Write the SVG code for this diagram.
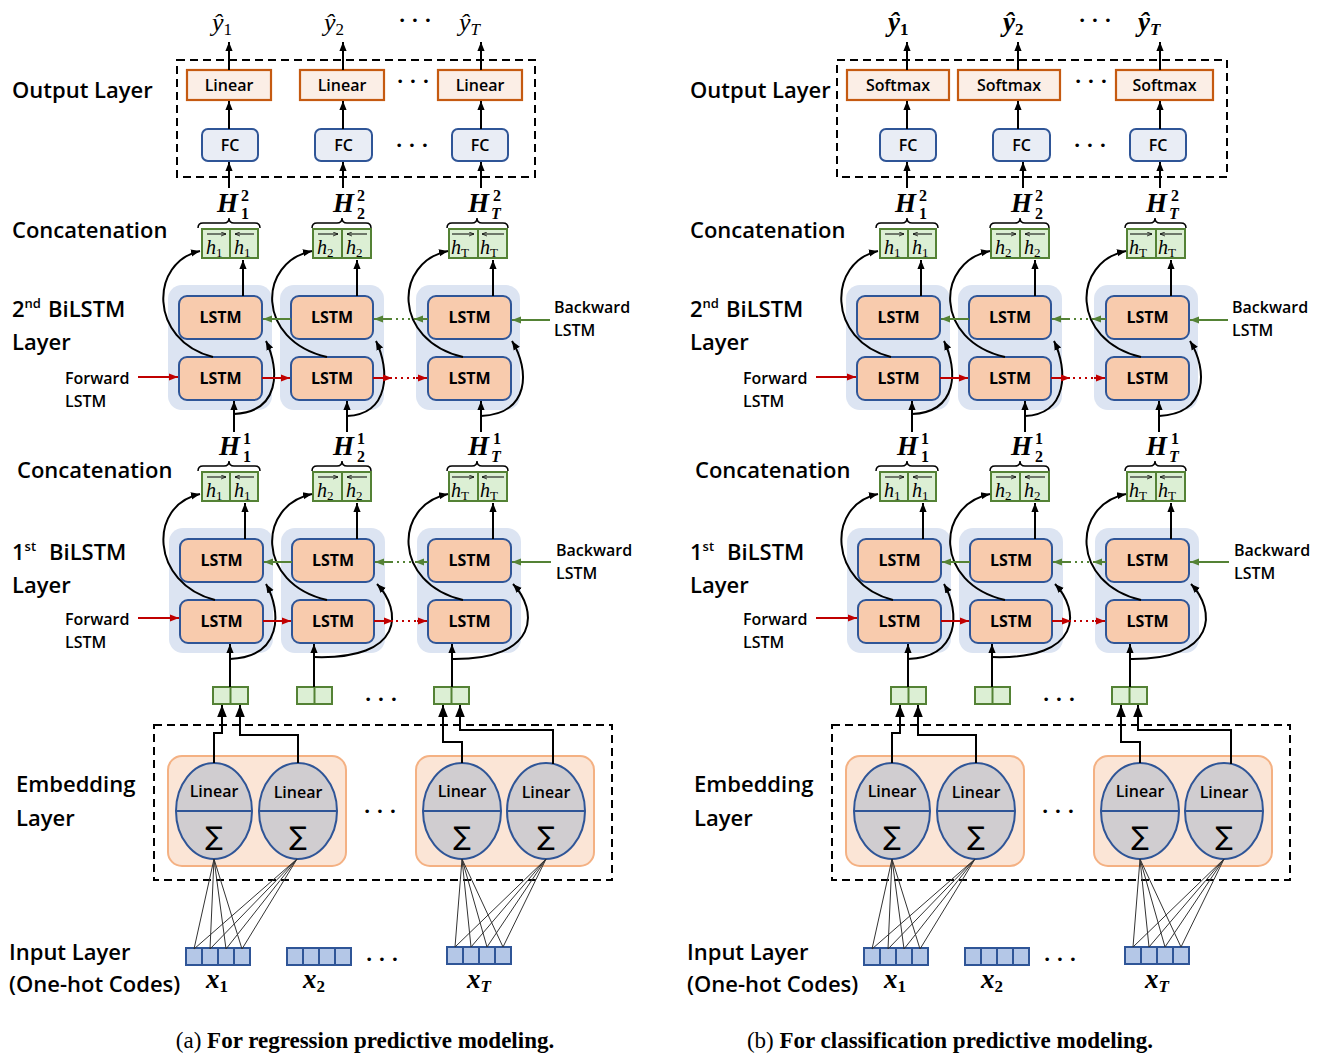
<svg xmlns="http://www.w3.org/2000/svg" width="1324" height="1055" viewBox="0 0 1324 1055">
<style>
text{font-family:"Open Sans","Liberation Sans",sans-serif;fill:#000}
.lbl{font-size:22px;font-weight:600}
.sup{font-size:13px;font-weight:600}
.sm{font-size:16px;font-weight:600}
.bt{font-size:16px;font-weight:600;text-anchor:middle}
.lt{font-size:16px;font-weight:700;text-anchor:middle}
.sig{font-family:"DejaVu Sans",sans-serif;font-size:26px;text-anchor:middle}
.m{font-family:"Liberation Serif",serif;font-style:italic;font-size:26px}
.mb{font-family:"Liberation Serif",serif;font-style:italic;font-weight:bold;font-size:27px}
.ms{font-size:17px;font-style:normal}
.msi{font-size:17px}
.H{font-family:"Liberation Serif",serif;font-style:italic;font-weight:bold;font-size:27px}
.hn{font-family:"Liberation Serif",serif;font-weight:bold;font-size:16px}
.hi{font-family:"Liberation Serif",serif;font-weight:bold;font-style:italic;font-size:16px}
.hv{font-family:"Liberation Serif",serif;font-style:italic;font-size:20px}
.hvs{font-size:13px;font-style:normal}
.dots{font-family:"Liberation Serif",serif;font-size:22px;font-weight:bold;text-anchor:middle}
.cap{font-family:"Liberation Serif",serif;font-size:23px;text-anchor:middle}
.dash{fill:none;stroke:#000;stroke-width:2;stroke-dasharray:8 5}
.lin{fill:#fbeee6;stroke:#c55a11;stroke-width:2.2}
.fc{fill:#e9edf5;stroke:#2f5597;stroke-width:2}
.gb{fill:#dcefd4;stroke:#548235;stroke-width:2}
.cont{fill:#dce4f2}
.lstm{fill:#f8cbad;stroke:#2f5597;stroke-width:2}
.emb{fill:#fbe5d6;stroke:#f4b183;stroke-width:2}
.ell{fill:#d0cdd0;stroke:#2f5597;stroke-width:2}
.cell{fill:#b4c7e7;stroke:#2f5597;stroke-width:2}
.sep{stroke:#548235;stroke-width:2}
.esep{stroke:#2f5597;stroke-width:2}
.brace{fill:none;stroke:#000;stroke-width:1.5}
.a{fill:none;stroke:#000;stroke-width:2;marker-end:url(#ak)}
.ab{fill:none;stroke:#000;stroke-width:2;marker-end:url(#akb)}
.r{fill:none;stroke:#c00000;stroke-width:2;marker-end:url(#ar)}
.rd{fill:none;stroke:#c00000;stroke-width:2;stroke-dasharray:2 4}
.g{fill:none;stroke:#548235;stroke-width:2;marker-end:url(#ag)}
.gd{fill:none;stroke:#548235;stroke-width:2;stroke-dasharray:2 4}
.thin{fill:none;stroke:#333;stroke-width:1}
.va{fill:none;stroke:#000;stroke-width:1;marker-end:url(#av)}
</style>
<defs>
<marker id="ak" viewBox="0 0 10 10" refX="10" refY="5" markerWidth="9" markerHeight="9" markerUnits="userSpaceOnUse" orient="auto"><path d="M0,1 L10,5 L0,9 z" fill="#000"/></marker>
<marker id="akb" viewBox="0 0 10 10" refX="10" refY="5" markerWidth="12" markerHeight="12" markerUnits="userSpaceOnUse" orient="auto"><path d="M0,1 L10,5 L0,9 z" fill="#000"/></marker>
<marker id="ar" viewBox="0 0 10 10" refX="10" refY="5" markerWidth="9" markerHeight="9" markerUnits="userSpaceOnUse" orient="auto"><path d="M0,1 L10,5 L0,9 z" fill="#c00000"/></marker>
<marker id="ag" viewBox="0 0 10 10" refX="10" refY="5" markerWidth="9" markerHeight="9" markerUnits="userSpaceOnUse" orient="auto"><path d="M0,1 L10,5 L0,9 z" fill="#548235"/></marker>
<marker id="av" viewBox="0 0 10 10" refX="10" refY="5" markerWidth="5" markerHeight="5" markerUnits="userSpaceOnUse" orient="auto"><path d="M0,1 L10,5 L0,9" fill="none" stroke="#000" stroke-width="1.5"/></marker>
</defs>

<!-- ================= PANEL A ================= -->
<g id="panel-a">
<g id="a-labels">
<text class="lbl" x="12" y="98">Output Layer</text>
<text class="lbl" x="12" y="238">Concatenation</text>
<text class="lbl" x="12" y="317">2<tspan class="sup" dy="-9">nd</tspan><tspan x="48" dy="9">BiLSTM</tspan></text>
<text class="lbl" x="12" y="350">Layer</text>
<text class="sm" x="65" y="384">Forward</text>
<text class="sm" x="65" y="407">LSTM</text>
<text class="sm" x="554" y="313">Backward</text>
<text class="sm" x="554" y="336">LSTM</text>
<text class="lbl" x="17" y="478">Concatenation</text>
<text class="lbl" x="12" y="560">1<tspan class="sup" dy="-9">st</tspan><tspan x="49" dy="9">BiLSTM</tspan></text>
<text class="lbl" x="12" y="593">Layer</text>
<text class="sm" x="65" y="625">Forward</text>
<text class="sm" x="65" y="648">LSTM</text>
<text class="sm" x="556" y="556">Backward</text>
<text class="sm" x="556" y="579">LSTM</text>
<text class="lbl" x="16" y="792">Embedding</text>
<text class="lbl" x="16" y="826">Layer</text>
<text class="lbl" x="9" y="960">Input Layer</text>
<text class="lbl" x="9" y="992">(One-hot Codes)</text>
<text class="dots" x="415" y="27">· · ·</text>
<text class="dots" x="413" y="88">· · ·</text>
<text class="dots" x="412" y="152">· · ·</text>
<text class="dots" x="381" y="706">· · ·</text>
<text class="dots" x="380" y="818">· · ·</text>
<text class="dots" x="382" y="966">· · ·</text>
</g>

<g id="a-out-frame"><rect class="dash" x="177" y="60" width="358" height="117"/></g>
<g id="a-y1"><text class="m" x="212" y="31">ŷ<tspan class="ms" dy="4">1</tspan></text></g>
<g id="a-y2"><text class="m" x="324" y="31">ŷ<tspan class="ms" dy="4">2</tspan></text></g>
<g id="a-yT"><text class="m" x="459" y="31">ŷ<tspan class="msi" dy="4">T</tspan></text></g>
<g id="a-lin1"><rect class="lin" x="187" y="70" width="84" height="30"/><text class="bt" x="229" y="91">Linear</text></g>
<g id="a-lin2"><rect class="lin" x="300" y="70" width="84" height="30"/><text class="bt" x="342" y="91">Linear</text></g>
<g id="a-lin3"><rect class="lin" x="438" y="70" width="84" height="30"/><text class="bt" x="480" y="91">Linear</text></g>
<g id="a-fc1"><rect class="fc" x="202" y="129" width="56" height="32" rx="6"/><text class="bt" x="230" y="151">FC</text></g>
<g id="a-fc2"><rect class="fc" x="315" y="129" width="57" height="32" rx="6"/><text class="bt" x="343.5" y="151">FC</text></g>
<g id="a-fc3"><rect class="fc" x="452" y="129" width="56" height="32" rx="6"/><text class="bt" x="480" y="151">FC</text></g>

<!-- concatenation layer 2 -->
<g id="a-c2-1">
<text class="H" x="217" y="212">H</text><text class="hn" x="241" y="201">2</text><text class="hn" x="241" y="219">1</text>
<path class="brace" d="M198,228 Q198,223 203,223 L224,223 Q229,223 229,218 Q229,223 234,223 L255,223 Q260,223 260,228"/>
<rect class="gb" x="202" y="229" width="56" height="29"/><line class="sep" x1="230" y1="229" x2="230" y2="258"/>
<line class="va" x1="207" y1="234" x2="226" y2="234"/><text class="hv" x="206" y="254">h<tspan class="hvs" dy="3">1</tspan></text>
<line class="va" x1="254" y1="234" x2="235" y2="234"/><text class="hv" x="234" y="254">h<tspan class="hvs" dy="3">1</tspan></text>
</g>
<g id="a-c2-2">
<text class="H" x="333" y="212">H</text><text class="hn" x="357" y="201">2</text><text class="hn" x="357" y="219">2</text>
<path class="brace" d="M312,228 Q312,223 317,223 L337,223 Q342,223 342,218 Q342,223 347,223 L366,223 Q371,223 371,228"/>
<rect class="gb" x="313" y="229" width="58" height="29"/><line class="sep" x1="342" y1="229" x2="342" y2="258"/>
<line class="va" x1="318" y1="234" x2="338" y2="234"/><text class="hv" x="317" y="254">h<tspan class="hvs" dy="3">2</tspan></text>
<line class="va" x1="367" y1="234" x2="347" y2="234"/><text class="hv" x="346" y="254">h<tspan class="hvs" dy="3">2</tspan></text>
</g>
<g id="a-c2-3">
<text class="H" x="468" y="212">H</text><text class="hn" x="493" y="201">2</text><text class="hi" x="491" y="219">T</text>
<path class="brace" d="M447,228 Q447,223 452,223 L472,223 Q477,223 477,218 Q477,223 482,223 L503,223 Q508,223 508,228"/>
<rect class="gb" x="449" y="229" width="58" height="29"/><line class="sep" x1="478" y1="229" x2="478" y2="258"/>
<line class="va" x1="452" y1="234" x2="474" y2="234"/><text class="hv" x="451" y="254">h<tspan class="hvs" font-style="italic" dy="3">T</tspan></text>
<line class="va" x1="504" y1="234" x2="482" y2="234"/><text class="hv" x="480" y="254">h<tspan class="hvs" font-style="italic" dy="3">T</tspan></text>
</g>

<!-- BiLSTM layer 2 -->
<g id="a-l2-cont1"><rect class="cont" x="168" y="285" width="104" height="125" rx="14"/></g>
<g id="a-l2-cont2"><rect class="cont" x="280" y="285" width="104" height="125" rx="14"/></g>
<g id="a-l2-cont3"><rect class="cont" x="416" y="285" width="104" height="125" rx="14"/></g>
<g id="a-l2-b1"><rect class="lstm" x="179" y="296" width="83" height="43" rx="8"/><text class="lt" x="220.5" y="323">LSTM</text></g>
<g id="a-l2-f1"><rect class="lstm" x="179" y="357" width="83" height="43" rx="8"/><text class="lt" x="220.5" y="384">LSTM</text></g>
<g id="a-l2-b2"><rect class="lstm" x="291" y="296" width="82" height="43" rx="8"/><text class="lt" x="332" y="323">LSTM</text></g>
<g id="a-l2-f2"><rect class="lstm" x="291" y="357" width="82" height="43" rx="8"/><text class="lt" x="332" y="384">LSTM</text></g>
<g id="a-l2-b3"><rect class="lstm" x="428" y="296" width="83" height="43" rx="8"/><text class="lt" x="469.5" y="323">LSTM</text></g>
<g id="a-l2-f3"><rect class="lstm" x="428" y="357" width="83" height="43" rx="8"/><text class="lt" x="469.5" y="384">LSTM</text></g>

<!-- concatenation layer 1 -->
<g id="a-c1-1">
<text class="H" x="219" y="455">H</text><text class="hn" x="243" y="444">1</text><text class="hn" x="243" y="462">1</text>
<path class="brace" d="M198,471 Q198,466 203,466 L224,466 Q229,466 229,461 Q229,466 234,466 L255,466 Q260,466 260,471"/>
<rect class="gb" x="202" y="472" width="56" height="29"/><line class="sep" x1="230" y1="472" x2="230" y2="501"/>
<line class="va" x1="207" y1="477" x2="226" y2="477"/><text class="hv" x="206" y="497">h<tspan class="hvs" dy="3">1</tspan></text>
<line class="va" x1="254" y1="477" x2="235" y2="477"/><text class="hv" x="234" y="497">h<tspan class="hvs" dy="3">1</tspan></text>
</g>
<g id="a-c1-2">
<text class="H" x="333" y="455">H</text><text class="hn" x="357" y="444">1</text><text class="hn" x="357" y="462">2</text>
<path class="brace" d="M312,471 Q312,466 317,466 L337,466 Q342,466 342,461 Q342,466 347,466 L366,466 Q371,466 371,471"/>
<rect class="gb" x="313" y="472" width="58" height="29"/><line class="sep" x1="342" y1="472" x2="342" y2="501"/>
<line class="va" x1="318" y1="477" x2="338" y2="477"/><text class="hv" x="317" y="497">h<tspan class="hvs" dy="3">2</tspan></text>
<line class="va" x1="367" y1="477" x2="347" y2="477"/><text class="hv" x="346" y="497">h<tspan class="hvs" dy="3">2</tspan></text>
</g>
<g id="a-c1-3">
<text class="H" x="468" y="455">H</text><text class="hn" x="493" y="444">1</text><text class="hi" x="491" y="462">T</text>
<path class="brace" d="M447,471 Q447,466 452,466 L472,466 Q477,466 477,461 Q477,466 482,466 L503,466 Q508,466 508,471"/>
<rect class="gb" x="449" y="472" width="58" height="29"/><line class="sep" x1="478" y1="472" x2="478" y2="501"/>
<line class="va" x1="452" y1="477" x2="474" y2="477"/><text class="hv" x="451" y="497">h<tspan class="hvs" font-style="italic" dy="3">T</tspan></text>
<line class="va" x1="504" y1="477" x2="482" y2="477"/><text class="hv" x="480" y="497">h<tspan class="hvs" font-style="italic" dy="3">T</tspan></text>
</g>

<!-- BiLSTM layer 1 -->
<g id="a-l1-cont1"><rect class="cont" x="169" y="528" width="104" height="125" rx="14"/></g>
<g id="a-l1-cont2"><rect class="cont" x="281" y="528" width="104" height="125" rx="14"/></g>
<g id="a-l1-cont3"><rect class="cont" x="417" y="528" width="104" height="125" rx="14"/></g>
<g id="a-l1-b1"><rect class="lstm" x="180" y="539" width="83" height="43" rx="8"/><text class="lt" x="221.5" y="566">LSTM</text></g>
<g id="a-l1-f1"><rect class="lstm" x="180" y="600" width="83" height="43" rx="8"/><text class="lt" x="221.5" y="627">LSTM</text></g>
<g id="a-l1-b2"><rect class="lstm" x="292" y="539" width="82" height="43" rx="8"/><text class="lt" x="333" y="566">LSTM</text></g>
<g id="a-l1-f2"><rect class="lstm" x="292" y="600" width="82" height="43" rx="8"/><text class="lt" x="333" y="627">LSTM</text></g>
<g id="a-l1-b3"><rect class="lstm" x="428" y="539" width="83" height="43" rx="8"/><text class="lt" x="469.5" y="566">LSTM</text></g>
<g id="a-l1-f3"><rect class="lstm" x="428" y="600" width="83" height="43" rx="8"/><text class="lt" x="469.5" y="627">LSTM</text></g>

<!-- embedding outputs -->
<g id="a-e1"><rect class="gb" x="213" y="687" width="35" height="17"/><line class="sep" x1="230.5" y1="687" x2="230.5" y2="704"/></g>
<g id="a-e2"><rect class="gb" x="297" y="687" width="35" height="17"/><line class="sep" x1="314.5" y1="687" x2="314.5" y2="704"/></g>
<g id="a-e3"><rect class="gb" x="434" y="687" width="35" height="17"/><line class="sep" x1="451.5" y1="687" x2="451.5" y2="704"/></g>

<!-- embedding layer -->
<g id="a-emb-frame"><rect class="dash" x="154" y="725" width="458" height="155"/></g>
<g id="a-emb1"><rect class="emb" x="168" y="756" width="178" height="110" rx="14"/></g>
<g id="a-emb2"><rect class="emb" x="416" y="756" width="178" height="110" rx="14"/></g>
<g id="a-n1"><ellipse class="ell" cx="214" cy="811" rx="38" ry="48"/><line class="esep" x1="176" y1="811" x2="252" y2="811"/><text class="bt" x="214" y="797">Linear</text><text class="sig" x="214" y="845">∑</text></g>
<g id="a-n2"><ellipse class="ell" cx="298" cy="811" rx="39" ry="48"/><line class="esep" x1="259" y1="811" x2="337" y2="811"/><text class="bt" x="298" y="798">Linear</text><text class="sig" x="298" y="845">∑</text></g>
<g id="a-n3"><ellipse class="ell" cx="462" cy="811" rx="39" ry="48"/><line class="esep" x1="423" y1="811" x2="501" y2="811"/><text class="bt" x="462" y="797">Linear</text><text class="sig" x="462" y="845">∑</text></g>
<g id="a-n4"><ellipse class="ell" cx="546" cy="811" rx="39" ry="48"/><line class="esep" x1="507" y1="811" x2="585" y2="811"/><text class="bt" x="546" y="798">Linear</text><text class="sig" x="546" y="845">∑</text></g>

<!-- input layer -->
<g id="a-x1"><rect class="cell" x="186" y="948" width="16" height="17"/><rect class="cell" x="202" y="948" width="16" height="17"/><rect class="cell" x="218" y="948" width="16" height="17"/><rect class="cell" x="234" y="948" width="16" height="17"/><text class="mb" x="206" y="988">x<tspan class="ms" dy="4">1</tspan></text></g>
<g id="a-x2"><rect class="cell" x="287" y="948" width="16" height="17"/><rect class="cell" x="303" y="948" width="16" height="17"/><rect class="cell" x="319" y="948" width="16" height="17"/><rect class="cell" x="335" y="948" width="16" height="17"/><text class="mb" x="303" y="988">x<tspan class="ms" dy="4">2</tspan></text></g>
<g id="a-xT"><rect class="cell" x="447" y="947" width="16" height="17"/><rect class="cell" x="463" y="947" width="16" height="17"/><rect class="cell" x="479" y="947" width="16" height="17"/><rect class="cell" x="495" y="947" width="16" height="17"/><text class="mb" x="467" y="988">x<tspan class="msi" dy="4">T</tspan></text></g>

<g id="a-connectors">
<path class="a" d="M229,70 V42"/><path class="a" d="M343,70 V42"/><path class="a" d="M481,70 V42"/>
<path class="a" d="M229,129 V101"/><path class="a" d="M343,129 V101"/><path class="a" d="M481,129 V101"/>
<path class="a" d="M229,188 V162"/><path class="a" d="M343,188 V162"/><path class="a" d="M481,188 V162"/>
<path class="a" d="M243,296 V260"/><path class="a" d="M357,296 V260"/><path class="a" d="M493,296 V260"/>
<path class="a" d="M213,357 C148,340 150,262 200,251"/>
<path class="a" d="M327,357 C255,340 258,262 312,251"/>
<path class="a" d="M463,357 C392,340 394,262 448,251"/>
<path class="a" d="M234,432 V401"/><path class="a" d="M347,432 V401"/><path class="a" d="M481,432 V401"/>
<path class="a" d="M234,414 C280,412 280,370 266,341"/>
<path class="a" d="M347,416 C390,414 390,370 376,341"/>
<path class="a" d="M481,416 C530,414 530,370 512,341"/>
<path class="r" d="M138,377 H178"/><path class="r" d="M262,378 H290"/><path class="r" d="M373,378 H392"/><path class="rd" d="M395,378 H416"/><path class="r" d="M416,378 H427"/>
<path class="g" d="M550,320 H512"/><path class="g" d="M291,319 H263"/><path class="g" d="M392,319 H374"/><path class="gd" d="M410,319 H394"/><path class="g" d="M428,319 H414"/>
<path class="a" d="M245,539 V503"/><path class="a" d="M357,539 V503"/><path class="a" d="M493,539 V503"/>
<path class="a" d="M215,600 C150,583 148,505 200,494"/>
<path class="a" d="M327,600 C255,583 258,505 312,494"/>
<path class="a" d="M463,600 C392,583 394,505 448,494"/>
<path class="a" d="M230,687 V644"/><path class="a" d="M314,687 V644"/><path class="a" d="M452,687 V644"/>
<path class="a" d="M230,659 C282,657 282,612 266,584"/>
<path class="a" d="M314,657 C405,660 402,610 377,584"/>
<path class="a" d="M452,659 C540,660 538,610 513,584"/>
<path class="r" d="M138,618 H179"/><path class="r" d="M263,621 H291"/><path class="r" d="M374,621 H393"/><path class="rd" d="M396,621 H417"/><path class="r" d="M417,621 H427"/>
<path class="g" d="M551,562 H512"/><path class="g" d="M292,562 H264"/><path class="g" d="M393,562 H375"/><path class="gd" d="M411,562 H395"/><path class="g" d="M428,562 H415"/>
<path class="ab" d="M214,763 V733 H222 V705"/><path class="ab" d="M298,763 V735 H240 V705"/>
<path class="ab" d="M462,763 V742 H443 V705"/><path class="ab" d="M553,764 V730 H460 V705"/>
<path class="thin" d="M194,949 L214,859 M210,949 L214,859 M226,949 L214,859 M242,949 L214,859 M194,949 L297,859 M210,949 L297,859 M226,949 L297,859 M242,949 L297,859"/>
<path class="thin" d="M455,947 L462,859 M471,947 L462,859 M487,947 L462,859 M503,947 L462,859 M455,947 L546,859 M471,947 L546,859 M487,947 L546,859 M503,947 L546,859"/>
</g>
</g>

<!-- ================= PANEL B ================= -->
<g id="panel-b" transform="translate(678,0)">
<g id="b-labels">
<text class="lbl" x="12" y="98">Output Layer</text>
<text class="lbl" x="12" y="238">Concatenation</text>
<text class="lbl" x="12" y="317">2<tspan class="sup" dy="-9">nd</tspan><tspan x="48" dy="9">BiLSTM</tspan></text>
<text class="lbl" x="12" y="350">Layer</text>
<text class="sm" x="65" y="384">Forward</text>
<text class="sm" x="65" y="407">LSTM</text>
<text class="sm" x="554" y="313">Backward</text>
<text class="sm" x="554" y="336">LSTM</text>
<text class="lbl" x="17" y="478">Concatenation</text>
<text class="lbl" x="12" y="560">1<tspan class="sup" dy="-9">st</tspan><tspan x="49" dy="9">BiLSTM</tspan></text>
<text class="lbl" x="12" y="593">Layer</text>
<text class="sm" x="65" y="625">Forward</text>
<text class="sm" x="65" y="648">LSTM</text>
<text class="sm" x="556" y="556">Backward</text>
<text class="sm" x="556" y="579">LSTM</text>
<text class="lbl" x="16" y="792">Embedding</text>
<text class="lbl" x="16" y="826">Layer</text>
<text class="lbl" x="9" y="960">Input Layer</text>
<text class="lbl" x="9" y="992">(One-hot Codes)</text>
<text class="dots" x="417" y="27">· · ·</text>
<text class="dots" x="413" y="88">· · ·</text>
<text class="dots" x="412" y="152">· · ·</text>
<text class="dots" x="381" y="706">· · ·</text>
<text class="dots" x="380" y="818">· · ·</text>
<text class="dots" x="382" y="966">· · ·</text>
</g>

<g id="b-out-frame"><rect class="dash" x="159" y="60" width="390" height="117"/></g>
<g id="b-y1"><text class="mb" x="210" y="31">ŷ<tspan class="ms" dy="4">1</tspan></text></g>
<g id="b-y2"><text class="mb" x="325" y="31">ŷ<tspan class="ms" dy="4">2</tspan></text></g>
<g id="b-yT"><text class="mb" x="460" y="31">ŷ<tspan class="msi" dy="4">T</tspan></text></g>
<g id="b-sm1"><rect class="lin" x="169" y="70" width="102" height="30"/><text class="bt" x="220" y="91">Softmax</text></g>
<g id="b-sm2"><rect class="lin" x="280" y="70" width="102" height="30"/><text class="bt" x="331" y="91">Softmax</text></g>
<g id="b-sm3"><rect class="lin" x="438" y="70" width="97" height="30"/><text class="bt" x="486.5" y="91">Softmax</text></g>
<g id="b-fc1"><rect class="fc" x="202" y="129" width="56" height="32" rx="6"/><text class="bt" x="230" y="151">FC</text></g>
<g id="b-fc2"><rect class="fc" x="315" y="129" width="57" height="32" rx="6"/><text class="bt" x="343.5" y="151">FC</text></g>
<g id="b-fc3"><rect class="fc" x="452" y="129" width="56" height="32" rx="6"/><text class="bt" x="480" y="151">FC</text></g>

<g id="b-c2-1">
<text class="H" x="217" y="212">H</text><text class="hn" x="241" y="201">2</text><text class="hn" x="241" y="219">1</text>
<path class="brace" d="M198,228 Q198,223 203,223 L224,223 Q229,223 229,218 Q229,223 234,223 L255,223 Q260,223 260,228"/>
<rect class="gb" x="202" y="229" width="56" height="29"/><line class="sep" x1="230" y1="229" x2="230" y2="258"/>
<line class="va" x1="207" y1="234" x2="226" y2="234"/><text class="hv" x="206" y="254">h<tspan class="hvs" dy="3">1</tspan></text>
<line class="va" x1="254" y1="234" x2="235" y2="234"/><text class="hv" x="234" y="254">h<tspan class="hvs" dy="3">1</tspan></text>
</g>
<g id="b-c2-2">
<text class="H" x="333" y="212">H</text><text class="hn" x="357" y="201">2</text><text class="hn" x="357" y="219">2</text>
<path class="brace" d="M312,228 Q312,223 317,223 L337,223 Q342,223 342,218 Q342,223 347,223 L366,223 Q371,223 371,228"/>
<rect class="gb" x="313" y="229" width="58" height="29"/><line class="sep" x1="342" y1="229" x2="342" y2="258"/>
<line class="va" x1="318" y1="234" x2="338" y2="234"/><text class="hv" x="317" y="254">h<tspan class="hvs" dy="3">2</tspan></text>
<line class="va" x1="367" y1="234" x2="347" y2="234"/><text class="hv" x="346" y="254">h<tspan class="hvs" dy="3">2</tspan></text>
</g>
<g id="b-c2-3">
<text class="H" x="468" y="212">H</text><text class="hn" x="493" y="201">2</text><text class="hi" x="491" y="219">T</text>
<path class="brace" d="M447,228 Q447,223 452,223 L472,223 Q477,223 477,218 Q477,223 482,223 L503,223 Q508,223 508,228"/>
<rect class="gb" x="449" y="229" width="58" height="29"/><line class="sep" x1="478" y1="229" x2="478" y2="258"/>
<line class="va" x1="452" y1="234" x2="474" y2="234"/><text class="hv" x="451" y="254">h<tspan class="hvs" font-style="italic" dy="3">T</tspan></text>
<line class="va" x1="504" y1="234" x2="482" y2="234"/><text class="hv" x="480" y="254">h<tspan class="hvs" font-style="italic" dy="3">T</tspan></text>
</g>

<g id="b-l2-cont1"><rect class="cont" x="168" y="285" width="104" height="125" rx="14"/></g>
<g id="b-l2-cont2"><rect class="cont" x="280" y="285" width="104" height="125" rx="14"/></g>
<g id="b-l2-cont3"><rect class="cont" x="416" y="285" width="104" height="125" rx="14"/></g>
<g id="b-l2-b1"><rect class="lstm" x="179" y="296" width="83" height="43" rx="8"/><text class="lt" x="220.5" y="323">LSTM</text></g>
<g id="b-l2-f1"><rect class="lstm" x="179" y="357" width="83" height="43" rx="8"/><text class="lt" x="220.5" y="384">LSTM</text></g>
<g id="b-l2-b2"><rect class="lstm" x="291" y="296" width="82" height="43" rx="8"/><text class="lt" x="332" y="323">LSTM</text></g>
<g id="b-l2-f2"><rect class="lstm" x="291" y="357" width="82" height="43" rx="8"/><text class="lt" x="332" y="384">LSTM</text></g>
<g id="b-l2-b3"><rect class="lstm" x="428" y="296" width="83" height="43" rx="8"/><text class="lt" x="469.5" y="323">LSTM</text></g>
<g id="b-l2-f3"><rect class="lstm" x="428" y="357" width="83" height="43" rx="8"/><text class="lt" x="469.5" y="384">LSTM</text></g>

<g id="b-c1-1">
<text class="H" x="219" y="455">H</text><text class="hn" x="243" y="444">1</text><text class="hn" x="243" y="462">1</text>
<path class="brace" d="M198,471 Q198,466 203,466 L224,466 Q229,466 229,461 Q229,466 234,466 L255,466 Q260,466 260,471"/>
<rect class="gb" x="202" y="472" width="56" height="29"/><line class="sep" x1="230" y1="472" x2="230" y2="501"/>
<line class="va" x1="207" y1="477" x2="226" y2="477"/><text class="hv" x="206" y="497">h<tspan class="hvs" dy="3">1</tspan></text>
<line class="va" x1="254" y1="477" x2="235" y2="477"/><text class="hv" x="234" y="497">h<tspan class="hvs" dy="3">1</tspan></text>
</g>
<g id="b-c1-2">
<text class="H" x="333" y="455">H</text><text class="hn" x="357" y="444">1</text><text class="hn" x="357" y="462">2</text>
<path class="brace" d="M312,471 Q312,466 317,466 L337,466 Q342,466 342,461 Q342,466 347,466 L366,466 Q371,466 371,471"/>
<rect class="gb" x="313" y="472" width="58" height="29"/><line class="sep" x1="342" y1="472" x2="342" y2="501"/>
<line class="va" x1="318" y1="477" x2="338" y2="477"/><text class="hv" x="317" y="497">h<tspan class="hvs" dy="3">2</tspan></text>
<line class="va" x1="367" y1="477" x2="347" y2="477"/><text class="hv" x="346" y="497">h<tspan class="hvs" dy="3">2</tspan></text>
</g>
<g id="b-c1-3">
<text class="H" x="468" y="455">H</text><text class="hn" x="493" y="444">1</text><text class="hi" x="491" y="462">T</text>
<path class="brace" d="M447,471 Q447,466 452,466 L472,466 Q477,466 477,461 Q477,466 482,466 L503,466 Q508,466 508,471"/>
<rect class="gb" x="449" y="472" width="58" height="29"/><line class="sep" x1="478" y1="472" x2="478" y2="501"/>
<line class="va" x1="452" y1="477" x2="474" y2="477"/><text class="hv" x="451" y="497">h<tspan class="hvs" font-style="italic" dy="3">T</tspan></text>
<line class="va" x1="504" y1="477" x2="482" y2="477"/><text class="hv" x="480" y="497">h<tspan class="hvs" font-style="italic" dy="3">T</tspan></text>
</g>

<g id="b-l1-cont1"><rect class="cont" x="169" y="528" width="104" height="125" rx="14"/></g>
<g id="b-l1-cont2"><rect class="cont" x="281" y="528" width="104" height="125" rx="14"/></g>
<g id="b-l1-cont3"><rect class="cont" x="417" y="528" width="104" height="125" rx="14"/></g>
<g id="b-l1-b1"><rect class="lstm" x="180" y="539" width="83" height="43" rx="8"/><text class="lt" x="221.5" y="566">LSTM</text></g>
<g id="b-l1-f1"><rect class="lstm" x="180" y="600" width="83" height="43" rx="8"/><text class="lt" x="221.5" y="627">LSTM</text></g>
<g id="b-l1-b2"><rect class="lstm" x="292" y="539" width="82" height="43" rx="8"/><text class="lt" x="333" y="566">LSTM</text></g>
<g id="b-l1-f2"><rect class="lstm" x="292" y="600" width="82" height="43" rx="8"/><text class="lt" x="333" y="627">LSTM</text></g>
<g id="b-l1-b3"><rect class="lstm" x="428" y="539" width="83" height="43" rx="8"/><text class="lt" x="469.5" y="566">LSTM</text></g>
<g id="b-l1-f3"><rect class="lstm" x="428" y="600" width="83" height="43" rx="8"/><text class="lt" x="469.5" y="627">LSTM</text></g>

<g id="b-e1"><rect class="gb" x="213" y="687" width="35" height="17"/><line class="sep" x1="230.5" y1="687" x2="230.5" y2="704"/></g>
<g id="b-e2"><rect class="gb" x="297" y="687" width="35" height="17"/><line class="sep" x1="314.5" y1="687" x2="314.5" y2="704"/></g>
<g id="b-e3"><rect class="gb" x="434" y="687" width="35" height="17"/><line class="sep" x1="451.5" y1="687" x2="451.5" y2="704"/></g>

<g id="b-emb-frame"><rect class="dash" x="154" y="725" width="458" height="155"/></g>
<g id="b-emb1"><rect class="emb" x="168" y="756" width="178" height="110" rx="14"/></g>
<g id="b-emb2"><rect class="emb" x="416" y="756" width="178" height="110" rx="14"/></g>
<g id="b-n1"><ellipse class="ell" cx="214" cy="811" rx="38" ry="48"/><line class="esep" x1="176" y1="811" x2="252" y2="811"/><text class="bt" x="214" y="797">Linear</text><text class="sig" x="214" y="845">∑</text></g>
<g id="b-n2"><ellipse class="ell" cx="298" cy="811" rx="39" ry="48"/><line class="esep" x1="259" y1="811" x2="337" y2="811"/><text class="bt" x="298" y="798">Linear</text><text class="sig" x="298" y="845">∑</text></g>
<g id="b-n3"><ellipse class="ell" cx="462" cy="811" rx="39" ry="48"/><line class="esep" x1="423" y1="811" x2="501" y2="811"/><text class="bt" x="462" y="797">Linear</text><text class="sig" x="462" y="845">∑</text></g>
<g id="b-n4"><ellipse class="ell" cx="546" cy="811" rx="39" ry="48"/><line class="esep" x1="507" y1="811" x2="585" y2="811"/><text class="bt" x="546" y="798">Linear</text><text class="sig" x="546" y="845">∑</text></g>

<g id="b-x1"><rect class="cell" x="186" y="948" width="16" height="17"/><rect class="cell" x="202" y="948" width="16" height="17"/><rect class="cell" x="218" y="948" width="16" height="17"/><rect class="cell" x="234" y="948" width="16" height="17"/><text class="mb" x="206" y="988">x<tspan class="ms" dy="4">1</tspan></text></g>
<g id="b-x2"><rect class="cell" x="287" y="948" width="16" height="17"/><rect class="cell" x="303" y="948" width="16" height="17"/><rect class="cell" x="319" y="948" width="16" height="17"/><rect class="cell" x="335" y="948" width="16" height="17"/><text class="mb" x="303" y="988">x<tspan class="ms" dy="4">2</tspan></text></g>
<g id="b-xT"><rect class="cell" x="447" y="947" width="16" height="17"/><rect class="cell" x="463" y="947" width="16" height="17"/><rect class="cell" x="479" y="947" width="16" height="17"/><rect class="cell" x="495" y="947" width="16" height="17"/><text class="mb" x="467" y="988">x<tspan class="msi" dy="4">T</tspan></text></g>

<g id="b-connectors">
<path class="a" d="M229,70 V42"/><path class="a" d="M340,70 V42"/><path class="a" d="M482,70 V42"/>
<path class="a" d="M229,129 V101"/><path class="a" d="M340,129 V101"/><path class="a" d="M482,129 V101"/>
<path class="a" d="M229,188 V162"/><path class="a" d="M345,188 V162"/><path class="a" d="M482,188 V162"/>
<path class="a" d="M243,296 V260"/><path class="a" d="M357,296 V260"/><path class="a" d="M493,296 V260"/>
<path class="a" d="M213,357 C148,340 150,262 200,251"/>
<path class="a" d="M327,357 C255,340 258,262 312,251"/>
<path class="a" d="M463,357 C392,340 394,262 448,251"/>
<path class="a" d="M234,432 V401"/><path class="a" d="M347,432 V401"/><path class="a" d="M481,432 V401"/>
<path class="a" d="M234,414 C280,412 280,370 266,341"/>
<path class="a" d="M347,416 C390,414 390,370 376,341"/>
<path class="a" d="M481,416 C530,414 530,370 512,341"/>
<path class="r" d="M138,377 H178"/><path class="r" d="M262,378 H290"/><path class="r" d="M373,378 H392"/><path class="rd" d="M395,378 H416"/><path class="r" d="M416,378 H427"/>
<path class="g" d="M550,320 H512"/><path class="g" d="M291,319 H263"/><path class="g" d="M392,319 H374"/><path class="gd" d="M410,319 H394"/><path class="g" d="M428,319 H414"/>
<path class="a" d="M245,539 V503"/><path class="a" d="M357,539 V503"/><path class="a" d="M493,539 V503"/>
<path class="a" d="M215,600 C150,583 148,505 200,494"/>
<path class="a" d="M327,600 C255,583 258,505 312,494"/>
<path class="a" d="M463,600 C392,583 394,505 448,494"/>
<path class="a" d="M230,687 V644"/><path class="a" d="M314,687 V644"/><path class="a" d="M452,687 V644"/>
<path class="a" d="M230,659 C282,657 282,612 266,584"/>
<path class="a" d="M314,657 C405,660 402,610 377,584"/>
<path class="a" d="M452,659 C540,660 538,610 513,584"/>
<path class="r" d="M138,618 H179"/><path class="r" d="M263,621 H291"/><path class="r" d="M374,621 H393"/><path class="rd" d="M396,621 H417"/><path class="r" d="M417,621 H427"/>
<path class="g" d="M551,562 H512"/><path class="g" d="M292,562 H264"/><path class="g" d="M393,562 H375"/><path class="gd" d="M411,562 H395"/><path class="g" d="M428,562 H415"/>
<path class="ab" d="M214,763 V733 H222 V705"/><path class="ab" d="M298,763 V735 H240 V705"/>
<path class="ab" d="M462,763 V742 H443 V705"/><path class="ab" d="M553,764 V730 H460 V705"/>
<path class="thin" d="M194,949 L214,859 M210,949 L214,859 M226,949 L214,859 M242,949 L214,859 M194,949 L297,859 M210,949 L297,859 M226,949 L297,859 M242,949 L297,859"/>
<path class="thin" d="M455,947 L462,859 M471,947 L462,859 M487,947 L462,859 M503,947 L462,859 M455,947 L546,859 M471,947 L546,859 M487,947 L546,859 M503,947 L546,859"/>
</g>
</g>

<g id="captions">
<text class="cap" x="365" y="1048">(a) <tspan font-weight="bold">For regression predictive modeling.</tspan></text>
<text class="cap" x="950" y="1048">(b) <tspan font-weight="bold">For classification predictive modeling.</tspan></text>
</g>
</svg>
